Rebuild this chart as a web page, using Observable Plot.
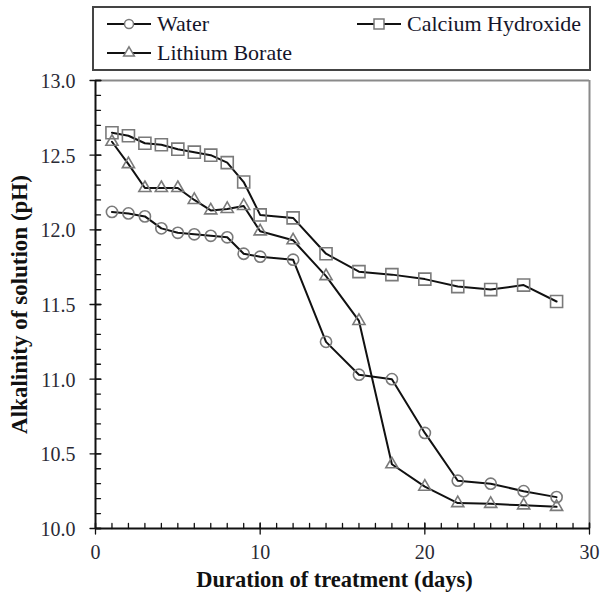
<!DOCTYPE html>
<html>
<head>
<meta charset="utf-8">
<script src="https://cdn.jsdelivr.net/npm/d3@7"></script>
<script src="https://cdn.jsdelivr.net/npm/@observablehq/plot@0.6"></script>
<style>
  html, body { margin: 0; padding: 0; background: #fff; }
  #chart { width: 601px; height: 601px; }
  #chart svg, #chart svg text { font-family: "Liberation Serif", "Times New Roman", serif !important; }
</style>
</head>
<body>
<div id="chart"></div>
<script>
const days = [1, 2, 3, 4, 5, 6, 7, 8, 9, 10, 12, 14, 16, 18, 20, 22, 24, 26, 28];
const water = [12.12, 12.11, 12.09, 12.01, 11.98, 11.97, 11.96, 11.95, 11.84, 11.82, 11.80, 11.25, 11.03, 11.00, 10.64, 10.32, 10.30, 10.25, 10.21];
const calcium = [12.65, 12.63, 12.58, 12.57, 12.54, 12.52, 12.50, 12.45, 12.32, 12.10, 12.08, 11.84, 11.72, 11.70, 11.67, 11.62, 11.60, 11.63, 11.52];
const lithium = [12.59, 12.44, 12.28, 12.28, 12.28, 12.20, 12.13, 12.14, 12.16, 11.99, 11.93, 11.69, 11.39, 10.43, 10.28, 10.17, 10.165, 10.155, 10.145];
const seriesNames = ["Water", "Calcium Hydroxide", "Lithium Borate"];
const seriesSymbols = ["circle", "square", "triangle"];
const xMajorTicks = [0, 10, 20, 30];
const xMinorTicks = d3.range(0, 31, 1);
const yMajorTicks = [10.0, 10.5, 11.0, 11.5, 12.0, 12.5, 13.0];
const yMinorTicks = d3.range(100, 131, 1).map(v => v / 10);
const xTitle = "Duration of treatment (days)";
const yTitle = "Alkalinity of solution (pH)";

const seriesValues = [water, calcium, lithium];
const rows = seriesValues.flatMap((vals, i) =>
  vals.map((v, j) => ({series: seriesNames[i], day: days[j], ph: v})));

const markerR = {"Water": 5.6, "Calcium Hydroxide": 6.8, "Lithium Borate": 4.5};
const markerStroke = "#7a7a7a";

const tickOpts = {shape: "spike", r: 0, stroke: "#111", strokeWidth: 1.3};

const chart = Plot.plot({
  width: 601,
  height: 601,
  marginLeft: 95,
  marginRight: 12,
  marginTop: 80,
  marginBottom: 73,
  style: {background: "#fff", color: "#222"},
  x: {domain: [0, 30], axis: null},
  y: {domain: [10, 13], axis: null},
  marks: [
    // top & right frame (gray)
    Plot.ruleY([13], {stroke: "#8a8a8a", strokeWidth: 2}),
    Plot.ruleX([30], {stroke: "#8a8a8a", strokeWidth: 2}),
    // axis lines
    Plot.ruleX([0], {stroke: "#111", strokeWidth: 2}),
    Plot.ruleY([10], {stroke: "#111", strokeWidth: 2}),
    // minor ticks pointing inside
    Plot.vector(xMinorTicks, {x: d => d, y: () => 10, length: 5, rotate: 0, anchor: "start", ...tickOpts}),
    Plot.vector(yMinorTicks, {x: () => 0, y: d => d, length: 5, rotate: 90, anchor: "start", ...tickOpts}),
    // major ticks crossing the axis
    Plot.vector(xMajorTicks, {x: d => d, y: () => 10, length: 11, rotate: 180, anchor: "middle", ...tickOpts}),
    Plot.vector(yMajorTicks, {x: () => 0, y: d => d, length: 11, rotate: 270, anchor: "middle", ...tickOpts}),
    // tick labels
    Plot.text(xMajorTicks, {x: d => d, y: () => 10, text: d3.format("d"), dy: 24, fontSize: 20, fill: "#2a2a35"}),
    Plot.text(yMajorTicks, {x: () => 0, y: d => d, text: d3.format(".1f"), dx: -20, dy: 1, textAnchor: "end", fontSize: 20, fill: "#2a2a35"}),
    // series lines
    Plot.line(rows, {x: "day", y: "ph", z: "series", stroke: "#111", strokeWidth: 2}),
    // markers
    ...seriesNames.map((name, i) =>
      Plot.dot(rows.filter(d => d.series === name), {
        x: "day", y: "ph", symbol: () => seriesSymbols[i], r: markerR[name],
        stroke: markerStroke, strokeWidth: 1.6, fill: "none"
      })),
    // axis titles
    Plot.text([xTitle], {frameAnchor: "bottom", dx: -8, dy: 58, textAnchor: "middle", text: d => d, fontSize: 22.5, fontWeight: "bold", fill: "#111"}),
    Plot.text([yTitle], {frameAnchor: "left", dx: -76, rotate: -90, textAnchor: "middle", lineAnchor: "middle", text: d => d, fontSize: 23, fontWeight: "bold", fill: "#111"})
  ]
});

document.getElementById("chart").appendChild(chart);

// Legend box in the top margin
const svg = d3.select(chart);
const lg = svg.append("g").attr("text-anchor", "start");
lg.append("rect").attr("x", 93).attr("y", 7).attr("width", 497).attr("height", 63)
  .attr("fill", "#fff").attr("stroke", "#444").attr("stroke-width", 2);
const legendPos = [
  {x: 107, y: 24},
  {x: 357, y: 24},
  {x: 107, y: 53}
];
const symGen = {
  circle: d3.symbol(d3.symbolCircle, Math.PI * 4.5 * 4.5),
  square: d3.symbol(d3.symbolSquare, 10 * 10),
  triangle: d3.symbol(d3.symbolTriangle, Math.PI * 4 * 4)
};
seriesNames.forEach((name, i) => {
  const p = legendPos[i];
  const g = lg.append("g").attr("transform", `translate(${p.x},${p.y})`);
  g.append("line").attr("x1", 0).attr("x2", 44).attr("y1", 0).attr("y2", 0)
    .attr("stroke", "#111").attr("stroke-width", 2);
  g.append("path").attr("d", symGen[seriesSymbols[i]]()).attr("transform", "translate(22,0)")
    .attr("fill", "#fff").attr("stroke", markerStroke).attr("stroke-width", 1.5);
  g.append("text").attr("x", 50).attr("y", 7).attr("font-size", 22)
    .attr("text-anchor", "start").attr("fill", "#15152a").text(name);
});
</script>
</body>
</html>
